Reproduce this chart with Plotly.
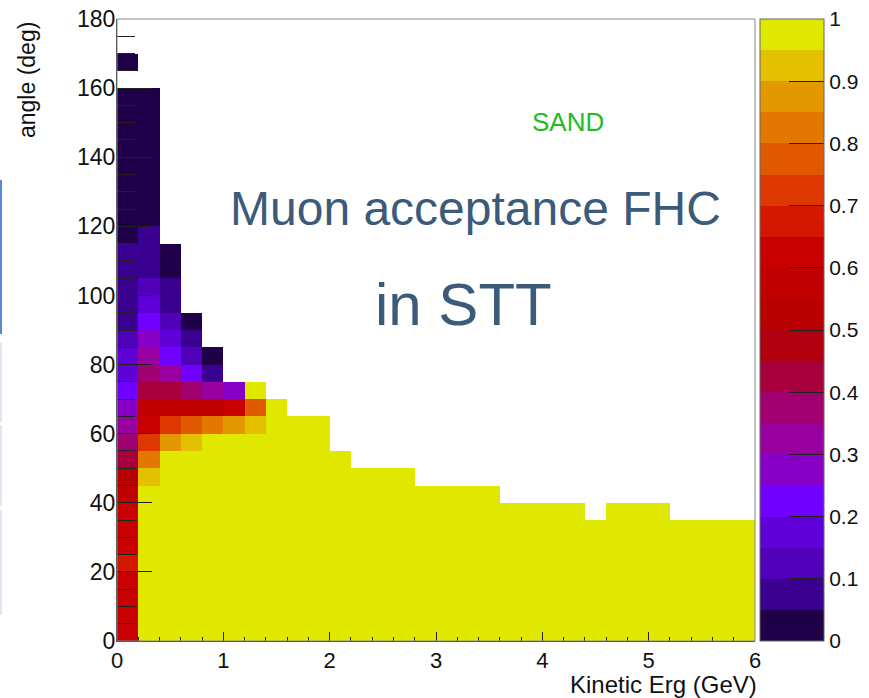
import plotly.graph_objects as go

# ---------------- data ----------------
# bin edges
energy_edges_gev = [round(0.2 * i, 1) for i in range(31)]   # 0.0 ... 6.0
angle_edges_deg = [5 * i for i in range(37)]                 # 0 ... 180

# acceptance per angle bin (from 0-5 deg upward), low-energy columns
acc_E_0p0_0p2 = [0.62, 0.62, 0.62, 0.62, 0.68, 0.62, 0.62, 0.62,
                 0.58, 0.52, 0.42, 0.38, 0.32, 0.28, 0.22, 0.18,
                 0.18, 0.12, 0.08, 0.08, 0.08, 0.08, 0.08, 0.02,
                 0.02, 0.02, 0.02, 0.02, 0.02, 0.02, 0.02, 0.02,
                 None, 0.02]
acc_E_0p2_0p4 = [1.0, 1.0, 1.0, 1.0, 1.0, 1.0, 1.0, 1.0,
                 1.0, 0.92, 0.82, 0.72, 0.62, 0.58, 0.42, 0.38,
                 0.32, 0.28, 0.22, 0.18, 0.12, 0.08, 0.08, 0.08,
                 0.02, 0.02, 0.02, 0.02, 0.02, 0.02, 0.02, 0.02]
acc_E_0p4_0p6 = [1.0, 1.0, 1.0, 1.0, 1.0, 1.0, 1.0, 1.0, 1.0, 1.0, 1.0,
                 0.88, 0.72, 0.58, 0.42, 0.32, 0.22, 0.18, 0.12, 0.08, 0.08,
                 0.02, 0.02]
acc_E_0p6_0p8 = [1.0, 1.0, 1.0, 1.0, 1.0, 1.0, 1.0, 1.0, 1.0, 1.0, 1.0,
                 0.92, 0.78, 0.58, 0.38, 0.22, 0.12, 0.08, 0.02]
acc_E_0p8_1p0 = [1.0, 1.0, 1.0, 1.0, 1.0, 1.0, 1.0, 1.0, 1.0, 1.0, 1.0, 1.0,
                 0.82, 0.58, 0.32, 0.08, 0.02]
acc_E_1p0_1p2 = [1.0, 1.0, 1.0, 1.0, 1.0, 1.0, 1.0, 1.0, 1.0, 1.0, 1.0, 1.0,
                 0.88, 0.62, 0.28]
acc_E_1p2_1p4 = [1.0, 1.0, 1.0, 1.0, 1.0, 1.0, 1.0, 1.0, 1.0, 1.0, 1.0, 1.0,
                 0.92, 0.78, 1.0]
acc_E_1p4_1p6 = [1.0, 1.0, 1.0, 1.0, 1.0, 1.0, 1.0, 1.0, 1.0, 1.0, 1.0, 1.0,
                 1.0, 1.0]
low_energy_columns = [acc_E_0p0_0p2, acc_E_0p2_0p4, acc_E_0p4_0p6, acc_E_0p6_0p8,
                      acc_E_0p8_1p0, acc_E_1p0_1p2, acc_E_1p2_1p4, acc_E_1p4_1p6]

# columns 1.6 ... 6.0 GeV: full acceptance (1.0) up to this angle (deg)
high_energy_max_angle_deg = [65, 65, 55, 50, 50, 50, 45, 45, 45, 45, 40,
                             40, 40, 40, 35, 40, 40, 40, 35, 35, 35, 35]
high_energy_value = 1.0

# palette (20 steps, 0 -> 1)
palette = ["#200048", "#3a0090", "#5000b8", "#6000d8", "#7000ff",
           "#8800c8", "#9800a0", "#a00070", "#a8003c", "#b00010",
           "#b80000", "#c00000", "#c80000", "#d41800", "#dc3800",
           "#e05800", "#e37800", "#e39800", "#e3c000", "#e0e800"]

colorbar_ticks = [0.0, 0.1, 0.2, 0.3, 0.4, 0.5, 0.6, 0.7, 0.8, 0.9, 1.0]
colorbar_ticktext = ["0", "0.1", "0.2", "0.3", "0.4", "0.5", "0.6", "0.7", "0.8", "0.9", "1"]
x_tickvals = [0, 1, 2, 3, 4, 5, 6]
y_tickvals = [0, 20, 40, 60, 80, 100, 120, 140, 160, 180]

# ---------------- build grid ----------------
n_x = len(energy_edges_gev) - 1
n_y = len(angle_edges_deg) - 1
z = [[None] * n_x for _ in range(n_y)]
for ix, col in enumerate(low_energy_columns):
    for iy, v in enumerate(col):
        z[iy][ix] = v
for k, top in enumerate(high_energy_max_angle_deg):
    ix = len(low_energy_columns) + k
    for iy in range(n_y):
        if angle_edges_deg[iy + 1] <= top:
            z[iy][ix] = high_energy_value

colorscale = []
n = len(palette)
for i, c in enumerate(palette):
    colorscale.append([i / n, c])
    colorscale.append([(i + 1) / n, c])

FONT = "Liberation Sans, Arial, Helvetica, sans-serif"

# ---------------- figure ----------------
L, R, T, B = 117, 114, 19, 57
W, H = 869, 698
pw, ph = W - L - R, H - T - B

def px_x(p):
    return (p - L) / pw

def px_y(p):
    return (H - B - p) / ph

fig = go.Figure()
fig.add_trace(go.Heatmap(
    x=energy_edges_gev, y=angle_edges_deg, z=z,
    zmin=0, zmax=1, colorscale=colorscale, zsmooth=False,
    hoverongaps=False,
    colorbar=dict(
        x=px_x(760), xanchor="left", xref="paper",
        y=0.5, yanchor="middle", len=1, lenmode="fraction",
        thickness=64, thicknessmode="pixels", xpad=0, ypad=0,
        outlinewidth=1, outlinecolor="#666666",
        ticks="inside", ticklen=35, tickwidth=1, tickcolor="#222222",
        tickvals=colorbar_ticks, ticktext=colorbar_ticktext,
        tickfont=dict(family=FONT, size=21, color="#111111"),
    ),
))

fig.update_layout(
    width=W, height=H,
    margin=dict(l=L, r=R, t=T, b=B, autoexpand=False),
    paper_bgcolor="white", plot_bgcolor="white",
    showlegend=False,
    font=dict(family=FONT, color="#111111"),
    xaxis=dict(
        range=[0, 6], showgrid=False, zeroline=False, automargin=False,
        showline=True, linecolor="#333333", linewidth=1, mirror=False,
        ticks="inside", ticklen=9, tickwidth=1, tickcolor="#222222",
        tickvals=x_tickvals, tickfont=dict(family=FONT, size=22, color="#111111"),
        minor=dict(ticks="inside", ticklen=4, dtick=0.2, tickcolor="#222222", showgrid=False),
        ticklabelstandoff=0,
    ),
    yaxis=dict(
        range=[0, 180], showgrid=False, zeroline=False, automargin=False,
        showline=True, linecolor="#333333", linewidth=1, mirror=False,
        ticks="inside", ticklen=35, tickwidth=1, tickcolor="#222222",
        tickvals=y_tickvals, tickfont=dict(family=FONT, size=23, color="#111111"),
        minor=dict(ticks="inside", ticklen=18, dtick=5, tickcolor="#222222", showgrid=False),
        ticklabelstandoff=-4,
    ),
)

# frame (top/right gray)
fig.add_shape(type="rect", xref="paper", yref="paper", x0=0, y0=0, x1=1, y1=1,
              line=dict(color="#888888", width=1), layer="above")

# slide artefact: thin blue bars at the left edge
for y0, y1, col, w in [(180, 334, "#5a8ad6", 2), (343, 422, "#d5def0", 1.5),
                       (425, 506, "#d5def0", 1.5), (510, 615, "#d5def0", 1.5)]:
    fig.add_shape(type="line", xref="paper", yref="paper",
                  x0=px_x(1), x1=px_x(1), y0=px_y(y0), y1=px_y(y1),
                  line=dict(color=col, width=w))

ann = [
    dict(text="angle (deg)", x=px_x(27), y=px_y(20), xanchor="center", yanchor="top",
         textangle=-90, font=dict(family=FONT, size=23, color="#111111")),
    dict(text="Kinetic Erg (GeV)", x=px_x(759), y=px_y(684), xanchor="right", yanchor="middle",
         font=dict(family=FONT, size=24, color="#111111")),
    dict(text="SAND", x=px_x(567.7), y=px_y(121.7), xanchor="center", yanchor="middle",
         font=dict(family=FONT, size=26, color="#22bb22")),
    dict(text="Muon acceptance FHC", x=px_x(475), y=px_y(209), xanchor="center", yanchor="middle",
         font=dict(family=FONT, size=48, color="#3c5a7a")),
    dict(text="in STT", x=px_x(463), y=px_y(304), xanchor="center", yanchor="middle",
         font=dict(family=FONT, size=60, color="#3c5a7a")),
]
for a in ann:
    fig.add_annotation(xref="paper", yref="paper", showarrow=False, **a)

fig.write_html("out.html",
               config={"displayModeBar": False},
               post_script="document.body.style.margin='0px';document.body.style.overflow='hidden';")
